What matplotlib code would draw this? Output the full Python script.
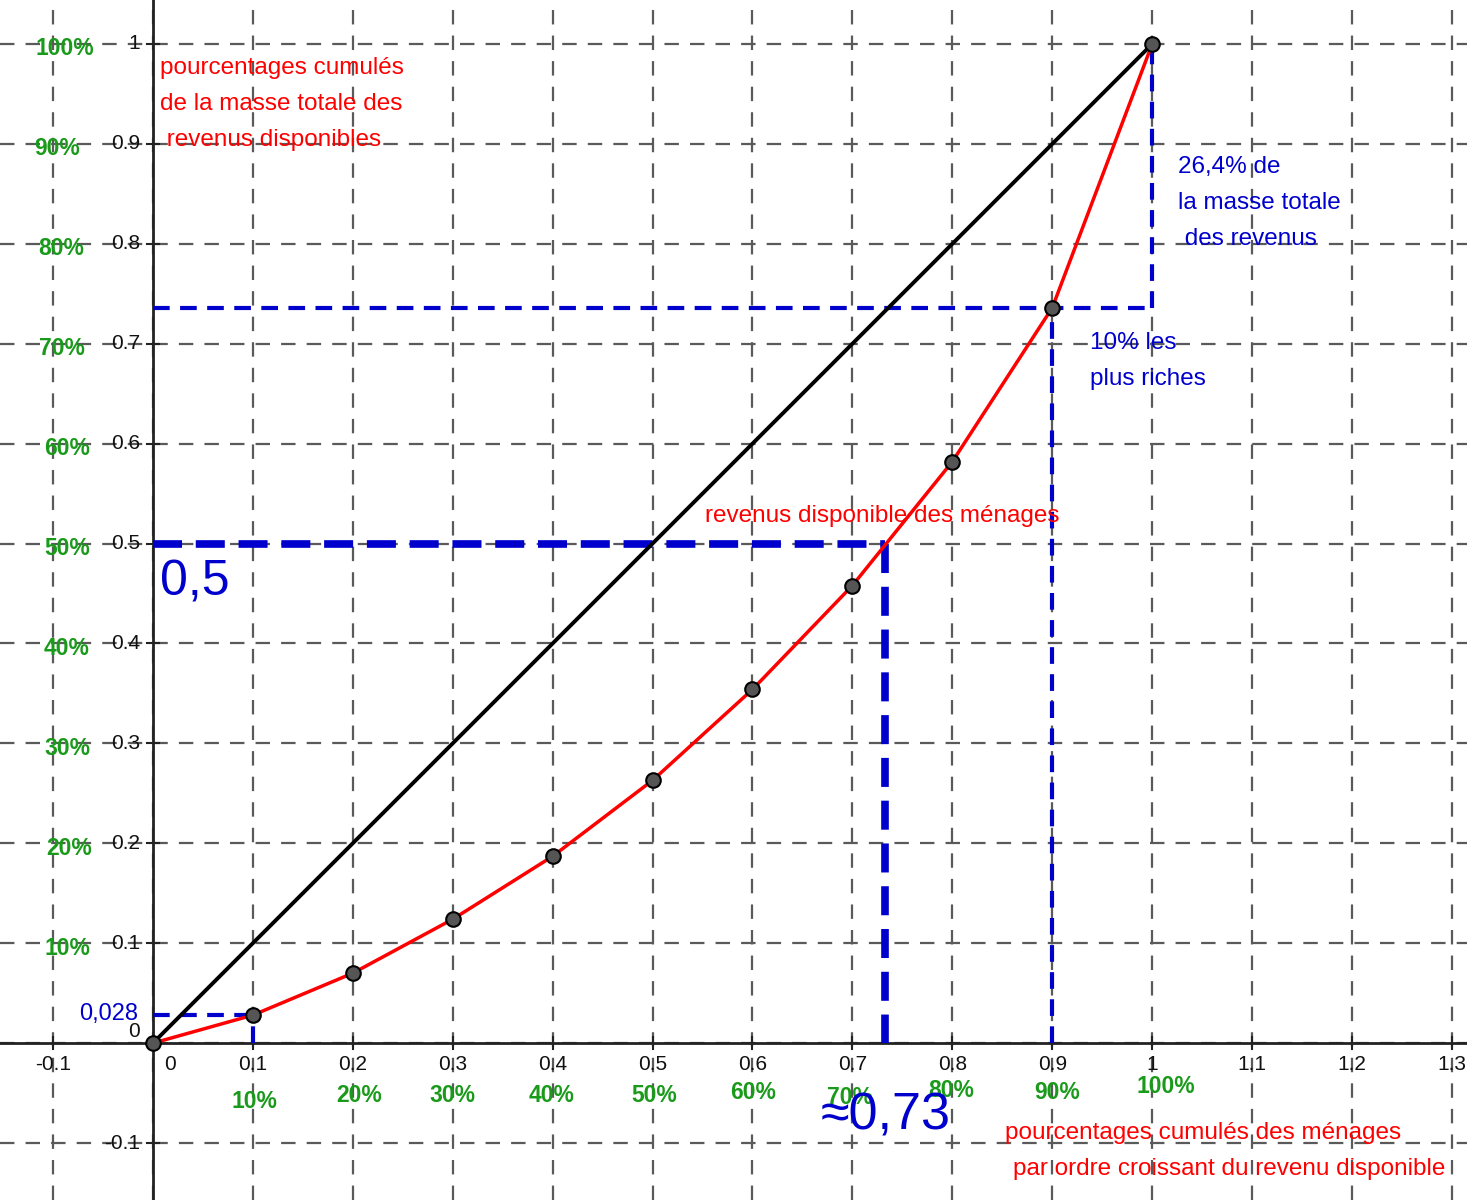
import matplotlib
matplotlib.use("Agg")
import matplotlib.pyplot as plt
import numpy as np

plt.rcParams['font.family'] = ['Liberation Sans', 'DejaVu Sans']

# Courbe de Lorenz (déciles cumulés)
menages = [0.0, 0.1, 0.2, 0.3, 0.4, 0.5, 0.6, 0.7, 0.8, 0.9, 1.0]
revenus = [0.0, 0.028, 0.070, 0.124, 0.187, 0.263, 0.354, 0.458, 0.582, 0.736, 1.0]
grid_ticks = [-0.1, 0.0, 0.1, 0.2, 0.3, 0.4, 0.5, 0.6, 0.7, 0.8, 0.9, 1.0, 1.1, 1.2, 1.3]
pct_labels = ['10%', '20%', '30%', '40%', '50%', '60%', '70%', '80%', '90%', '100%']
mediane_x = 0.733

fig = plt.figure(figsize=(14.67, 12), dpi=100)
ax = fig.add_axes([0, 0, 1, 1])
ax.set_xlim(-0.153, 1.315)
ax.set_ylim(-0.157, 1.044)
ax.axis('off')

grey = '#5a5a5a'
for t in grid_ticks:
    ax.axvline(t, color=grey, lw=1.6, ls=(0, (6.5, 5)), zorder=1)
    ax.axhline(t, color=grey, lw=1.6, ls=(0, (6.5, 5)), zorder=1)

# axes
ax.axhline(0, color='#222222', lw=2, zorder=2)
ax.axvline(0, color='#222222', lw=2, zorder=2)
for t in grid_ticks:
    if t == 0:
        continue
    ax.plot([t, t], [-0.006, 0.006], color='#222222', lw=1.5, zorder=2)
    ax.text(t, -0.012, f"{t:g}", ha='center', va='top', fontsize=15, color='#111111')
    if t <= 1.0:
        ax.plot([-0.006, 0.006], [t, t], color='#222222', lw=1.5, zorder=2)
        ax.text(-0.013, t, f"{t:g}", ha='right', va='center', fontsize=15, color='#111111')
ax.text(0.017, -0.012, "0", ha='center', va='top', fontsize=15, color='#111111')
ax.text(-0.013, 0.012, "0", ha='right', va='center', fontsize=15, color='#111111')

# étiquettes en pourcentage (vert)
green = '#1a9a1a'
x_pct_y = [-0.058, -0.052, -0.052, -0.052, -0.052, -0.049, -0.054, -0.047, -0.049, -0.043]
x_pct_x = [0.102, 0.206, 0.300, 0.399, 0.502, 0.601, 0.698, 0.799, 0.905, 1.014]
for lab, px, py in zip(pct_labels, x_pct_x, x_pct_y):
    ax.text(px, py, lab, ha='center', va='center', fontsize=16.5, color=green, fontweight='bold')
y_pct_x = [-0.086, -0.084, -0.086, -0.086, -0.086, -0.086, -0.091, -0.092, -0.096, -0.088]
for lab, v, px in zip(pct_labels, menages[1:], y_pct_x):
    ax.text(px, v - 0.005, lab, ha='center', va='center', fontsize=16.5, color=green, fontweight='bold')

# lignes de construction (bleu)
blue = '#0000cc'
ax.plot([0, mediane_x], [0.5, 0.5], color=blue, lw=5.5, ls=(0, (3.8, 1.8)), zorder=3)
ax.plot([mediane_x, mediane_x], [0.5, 0], color=blue, lw=5.5, ls=(0, (3.8, 1.8)), zorder=3)
ax.plot([0, 1], [revenus[9], revenus[9]], color=blue, lw=3, ls=(0, (4, 2.5)), zorder=3)
ax.plot([1, 1], [revenus[9], 1], color=blue, lw=3, ls=(0, (4, 2.5)), zorder=3)
ax.plot([0.9, 0.9], [0, revenus[9]], color=blue, lw=3, ls=(0, (4, 2.5)), zorder=3)
ax.plot([0, 0.1], [revenus[1], revenus[1]], color=blue, lw=3, ls=(0, (4, 2.5)), zorder=3)
ax.plot([0.1, 0.1], [0, revenus[1]], color=blue, lw=3, ls=(0, (4, 2.5)), zorder=3)

# droite d'égalité et courbe de Lorenz
ax.plot([0, 1], [0, 1], color='black', lw=2.8, zorder=4)
ax.plot(menages, revenus, color='#ff0000', lw=2.5, zorder=5)
ax.scatter(menages, revenus, s=110, facecolor='#555555', edgecolor='black', lw=1.5, zorder=6)

# textes
red = '#ff0000'
fs = 17.5
ax.text(0.007, 0.976, "pourcentages cumulés", color=red, fontsize=fs, va='center')
ax.text(0.007, 0.940, "de la masse totale des", color=red, fontsize=fs, va='center')
ax.text(0.007, 0.904, " revenus disponibles", color=red, fontsize=fs, va='center')
ax.text(0.552, 0.528, "revenus disponible des ménages", color=red, fontsize=fs, va='center')
ax.text(0.853, -0.090, "pourcentages cumulés des ménages", color=red, fontsize=fs, va='center')
ax.text(0.861, -0.126, "par ordre croissant du revenu disponible", color=red, fontsize=fs, va='center')

ax.text(1.026, 0.877, "26,4% de", color=blue, fontsize=fs, va='center')
ax.text(1.026, 0.841, "la masse totale", color=blue, fontsize=fs, va='center')
ax.text(1.026, 0.805, " des revenus", color=blue, fontsize=fs, va='center')
ax.text(0.938, 0.701, "10% les", color=blue, fontsize=fs, va='center')
ax.text(0.938, 0.665, "plus riches", color=blue, fontsize=fs, va='center')
ax.text(-0.015, 0.029, "0,028", color=blue, fontsize=17, ha='right', va='center')
ax.text(0.007, 0.461, "0,5", color=blue, fontsize=36, va='center')
ax.text(0.668, -0.073, "≈0,73", color=blue, fontsize=37.5, va='center')

fig.savefig("out.png", dpi=100)
